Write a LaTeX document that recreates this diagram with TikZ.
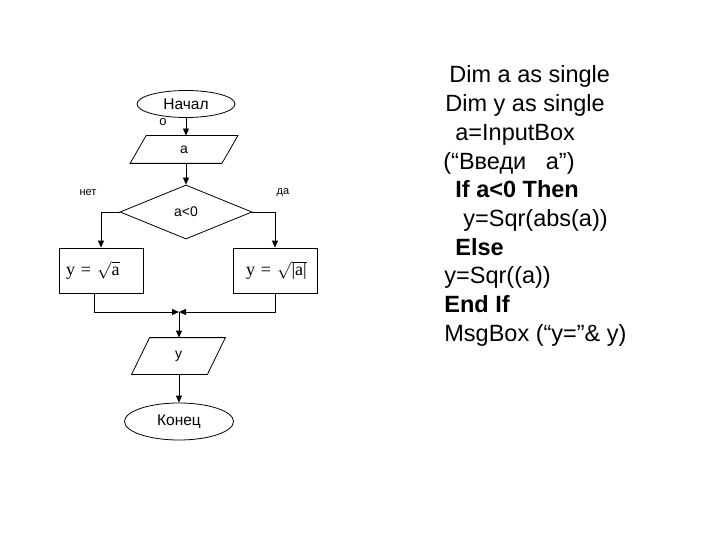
\documentclass[tikz,border=0pt]{standalone}
\usepackage{fontspec}
\setmainfont{Liberation Sans}
\newfontfamily\tnr{Liberation Serif}
\usetikzlibrary{arrows.meta, shapes.geometric}
% параллелограмм ввода/вывода по углам узла
\newcommand\dataslant[2]{\draw ([xshift=#2]#1.north west) -- (#1.north east)
  -- ([xshift=-#2]#1.south east) -- (#1.south west) -- cycle;}

\begin{document}
\begin{tikzpicture}[x=1pt, y=-1pt, >={Triangle[length=7pt, width=6pt]}, line width=0.8pt,
  term/.style={draw, ellipse, inner sep=0pt, font=\fontsize{15.5}{17}\selectfont},
  datio/.style={rectangle, inner sep=0pt, font=\fontsize{14}{16}\selectfont},
  cond/.style={draw, diamond, inner sep=0pt, minimum width=132pt, minimum height=54pt,
    font=\fontsize{14}{16}\selectfont},
  proc/.style={draw, rectangle, inner sep=0pt, minimum width=84pt, minimum height=45pt,
    text width=70pt, align=left, font=\tnr\fontsize{18}{20}\selectfont},
  lbl/.style={font=\fontsize{11}{13}\selectfont},
  codeline/.style={anchor=base west, inner sep=0pt, font=\fontsize{23.5}{28}\selectfont}]
  \useasboundingbox (0,0) rectangle (720,540);
  % блок-схема
  \node[term, minimum width=98pt, minimum height=27pt] (start) at (186,104) {Начал};
  \node[lbl, font=\fontsize{13}{15}\selectfont] (o) at (163,122) {о};
  \node[datio, minimum width=107pt, minimum height=27pt] (inp) at (184,149.5) {a};
  \dataslant{inp}{16pt}
  \node[cond] (chk) at (186,212) {a<0};
  \node[lbl] (no) at (88,193) {нет};
  \node[lbl] (yes) at (283,193) {да};
  \node[proc] (neg) at (101,270.5) {y = $\sqrt{\mbox{\tnr a}}$};
  \node[proc] (pos) at (275,270.5) {\ y = $\sqrt{\mbox{\tnr |a|}}$};
  \coordinate (J) at (179,312);
  \node[datio, minimum width=93pt, minimum height=36pt] (outp) at (178.5,356) {y};
  \dataslant{outp}{18pt}
  \node[term, minimum width=109pt, minimum height=37pt] (fin) at (179,421.5) {Конец};
  \draw[->] (start) -- (start |- inp.north);
  \draw[->] (inp.south -| chk) -- (chk);
  \draw[->] (chk.west) -| (neg);
  \draw[->] (chk.east) -| (pos);
  \draw[->] ([xshift=-7pt]neg.south) |- (J);
  \draw[->] (pos.south) |- (J);
  \draw[->] (J) -- (J |- outp.north);
  \draw[->] (outp.south -| fin) -- (fin);
  % текст программы
  \foreach \x/\n/\t in {449/0/{Dim a as single}, 445/1/{Dim y as single},
      455/2/{a=InputBox}, 443/3/{(“Введи\ \ \ a”)}, 455/4/{\bfseries If a<0 Then},
      463/5/{y=Sqr(abs(a))}, 455/6/{\bfseries Else}, 444/7/{y=Sqr((a))},
      444/8/{\bfseries End If}, 444/9/{MsgBox (“y=”\& y)}}
    \node[codeline] (line\n) at (\x,83+28.67*\n) {\t};
\end{tikzpicture}
\end{document}
